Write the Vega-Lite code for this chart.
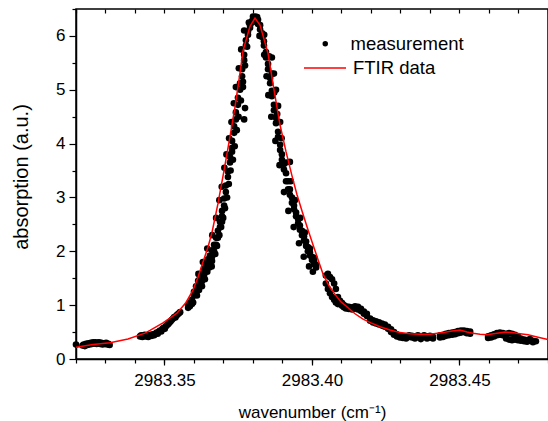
{
  "$schema": "https://vega.github.io/schema/vega-lite/v6.json",
  "width": 472,
  "height": 350,
  "autosize": {"type": "none"},
  "padding": {"left": 76, "top": 9, "right": 0, "bottom": 62},
  "background": "white",
  "config": {
    "font": "Liberation Sans",
    "view": {"stroke": "#000", "strokeWidth": 1.5},
    "axis": {
      "grid": false, "domainColor": "#000", "tickColor": "#000", "labelColor": "#000", "titleColor": "#000",
      "labelFont": "Liberation Sans", "titleFont": "Liberation Sans", "labelFontSize": 17,
      "titleFontWeight": "normal", "domainWidth": 1.5, "tickWidth": 1.2
    },
    "legend": {"labelFont": "Liberation Sans", "labelColor": "#000", "labelFontSize": 18.5, "padding": 0, "title": null}
  },
  "datasets": {
    "meas": [
      {"x":2983.3200,"y":0.27},{"x":2983.3222,"y":0.25},{"x":2983.3226,"y":0.27},{"x":2983.3230,"y":0.24},{"x":2983.3234,"y":0.28},
      {"x":2983.3238,"y":0.26},{"x":2983.3242,"y":0.29},{"x":2983.3246,"y":0.27},{"x":2983.3250,"y":0.30},{"x":2983.3254,"y":0.28},
      {"x":2983.3258,"y":0.31},{"x":2983.3262,"y":0.29},{"x":2983.3266,"y":0.31},{"x":2983.3270,"y":0.28},{"x":2983.3274,"y":0.30},
      {"x":2983.3278,"y":0.31},{"x":2983.3282,"y":0.28},{"x":2983.3286,"y":0.30},{"x":2983.3290,"y":0.27},{"x":2983.3294,"y":0.29},
      {"x":2983.3298,"y":0.28},{"x":2983.3302,"y":0.30},{"x":2983.3306,"y":0.27},{"x":2983.3310,"y":0.28},{"x":2983.3314,"y":0.26},
      {"x":2983.3417,"y":0.42},{"x":2983.3421,"y":0.44},{"x":2983.3425,"y":0.41},{"x":2983.3429,"y":0.43},{"x":2983.3433,"y":0.45},
      {"x":2983.3437,"y":0.42},{"x":2983.3441,"y":0.44},{"x":2983.3445,"y":0.41},{"x":2983.3449,"y":0.43},{"x":2983.3453,"y":0.45},
      {"x":2983.3457,"y":0.43},{"x":2983.3461,"y":0.46},{"x":2983.3465,"y":0.44},{"x":2983.3469,"y":0.47},{"x":2983.3473,"y":0.49},
      {"x":2983.3477,"y":0.47},{"x":2983.3481,"y":0.51},{"x":2983.3485,"y":0.53},{"x":2983.3489,"y":0.51},{"x":2983.3493,"y":0.56},
      {"x":2983.3497,"y":0.58},{"x":2983.3501,"y":0.56},{"x":2983.3505,"y":0.61},{"x":2983.3509,"y":0.63},{"x":2983.3513,"y":0.65},
      {"x":2983.3517,"y":0.68},{"x":2983.3521,"y":0.70},{"x":2983.3525,"y":0.73},{"x":2983.3529,"y":0.75},{"x":2983.3533,"y":0.78},
      {"x":2983.3537,"y":0.77},{"x":2983.3541,"y":0.81},{"x":2983.3545,"y":0.83},{"x":2983.3549,"y":0.85},{"x":2983.3553,"y":0.87},
      {"x":2983.3580,"y":1.00},{"x":2983.3580,"y":0.95},{"x":2983.3586,"y":1.05},{"x":2983.3586,"y":0.98},{"x":2983.3593,"y":1.10},
      {"x":2983.3593,"y":1.02},{"x":2983.3600,"y":1.18},{"x":2983.3600,"y":1.25},{"x":2983.3607,"y":1.22},{"x":2983.3607,"y":1.35},
      {"x":2983.3614,"y":1.30},{"x":2983.3614,"y":1.45},{"x":2983.3620,"y":1.38},{"x":2983.3620,"y":1.50},{"x":2983.3627,"y":1.45},
      {"x":2983.3627,"y":1.58},{"x":2983.3627,"y":1.35},{"x":2983.3634,"y":1.55},{"x":2983.3634,"y":1.68},{"x":2983.3641,"y":1.65},
      {"x":2983.3641,"y":1.75},{"x":2983.3647,"y":1.72},{"x":2983.3647,"y":1.85},{"x":2983.3654,"y":1.80},{"x":2983.3654,"y":1.92},
      {"x":2983.3661,"y":1.90},{"x":2983.3661,"y":2.02},{"x":2983.3661,"y":1.82},{"x":2983.3668,"y":2.00},{"x":2983.3668,"y":2.12},
      {"x":2983.3675,"y":2.12},{"x":2983.3675,"y":2.25},{"x":2983.3681,"y":2.25},{"x":2983.3681,"y":2.38},{"x":2983.3688,"y":2.45},
      {"x":2983.3688,"y":2.55},{"x":2983.3695,"y":2.65},{"x":2983.3695,"y":2.75},{"x":2983.3695,"y":2.55},{"x":2983.3702,"y":2.85},
      {"x":2983.3702,"y":2.98},{"x":2983.3708,"y":3.10},{"x":2983.3708,"y":3.22},{"x":2983.3715,"y":3.38},{"x":2983.3715,"y":3.48},
      {"x":2983.3722,"y":3.65},{"x":2983.3722,"y":3.75},{"x":2983.3729,"y":3.92},{"x":2983.3729,"y":4.05},{"x":2983.3729,"y":3.85},
      {"x":2983.3736,"y":4.20},{"x":2983.3736,"y":4.32},{"x":2983.3742,"y":4.45},{"x":2983.3742,"y":4.58},{"x":2983.3749,"y":4.72},
      {"x":2983.3749,"y":4.85},{"x":2983.3756,"y":5.00},{"x":2983.3756,"y":5.12},{"x":2983.3763,"y":5.25},{"x":2983.3763,"y":5.38},
      {"x":2983.3770,"y":5.55},{"x":2983.3770,"y":5.65},{"x":2983.3776,"y":5.82},{"x":2983.3776,"y":5.92},{"x":2983.3783,"y":6.02},
      {"x":2983.3783,"y":6.08},{"x":2983.3790,"y":6.15},{"x":2983.3790,"y":6.20},{"x":2983.3797,"y":6.25},{"x":2983.3797,"y":6.28},
      {"x":2983.3803,"y":6.30},{"x":2983.3803,"y":6.33},{"x":2983.3773,"y":4.66},{"x":2983.3766,"y":5.05},{"x":2983.3770,"y":4.45},
      {"x":2983.3597,"y":1.05},{"x":2983.3610,"y":1.18},{"x":2983.3617,"y":1.28},{"x":2983.3624,"y":1.40},{"x":2983.3637,"y":1.48},
      {"x":2983.3645,"y":1.62},{"x":2983.3652,"y":1.70},{"x":2983.3660,"y":1.72},{"x":2983.3615,"y":1.58},{"x":2983.3630,"y":1.80},
      {"x":2983.3645,"y":2.05},{"x":2983.3672,"y":1.95},{"x":2983.3678,"y":2.10},{"x":2983.3686,"y":2.30},{"x":2983.3692,"y":2.45},
      {"x":2983.3662,"y":2.30},{"x":2983.3675,"y":2.62},{"x":2983.3699,"y":2.62},{"x":2983.3705,"y":2.80},{"x":2983.3712,"y":3.00},
      {"x":2983.3686,"y":2.95},{"x":2983.3694,"y":3.20},{"x":2983.3718,"y":3.25},{"x":2983.3724,"y":3.50},{"x":2983.3703,"y":3.55},
      {"x":2983.3710,"y":3.80},{"x":2983.3732,"y":3.70},{"x":2983.3738,"y":3.95},{"x":2983.3719,"y":4.10},{"x":2983.3727,"y":4.40},
      {"x":2983.3745,"y":4.25},{"x":2983.3751,"y":4.50},{"x":2983.3735,"y":4.75},{"x":2983.3742,"y":5.05},{"x":2983.3759,"y":4.80},
      {"x":2983.3766,"y":5.15},{"x":2983.3752,"y":5.40},{"x":2983.3760,"y":5.75},{"x":2983.3773,"y":5.45},{"x":2983.3780,"y":5.80},
      {"x":2983.3770,"y":6.10},{"x":2983.3786,"y":6.25},{"x":2983.3800,"y":6.36},{"x":2983.3808,"y":6.36},{"x":2983.3814,"y":6.35},
      {"x":2983.3810,"y":6.32},{"x":2983.3810,"y":6.28},{"x":2983.3817,"y":6.30},{"x":2983.3817,"y":6.22},{"x":2983.3824,"y":6.20},
      {"x":2983.3824,"y":6.12},{"x":2983.3831,"y":6.05},{"x":2983.3831,"y":5.98},{"x":2983.3837,"y":5.90},{"x":2983.3837,"y":5.82},
      {"x":2983.3844,"y":5.70},{"x":2983.3844,"y":5.60},{"x":2983.3851,"y":5.48},{"x":2983.3851,"y":5.38},{"x":2983.3858,"y":5.22},
      {"x":2983.3858,"y":5.12},{"x":2983.3864,"y":4.98},{"x":2983.3864,"y":4.88},{"x":2983.3864,"y":5.60},{"x":2983.3871,"y":4.72},
      {"x":2983.3871,"y":4.62},{"x":2983.3871,"y":5.30},{"x":2983.3878,"y":4.48},{"x":2983.3878,"y":4.38},{"x":2983.3878,"y":5.00},
      {"x":2983.3885,"y":4.22},{"x":2983.3885,"y":4.12},{"x":2983.3885,"y":4.70},{"x":2983.3892,"y":3.98},{"x":2983.3892,"y":3.88},
      {"x":2983.3892,"y":4.40},{"x":2983.3898,"y":3.80},{"x":2983.3898,"y":3.70},{"x":2983.3905,"y":3.62},{"x":2983.3905,"y":3.52},
      {"x":2983.3912,"y":3.45},{"x":2983.3912,"y":3.30},{"x":2983.3919,"y":3.30},{"x":2983.3919,"y":3.15},{"x":2983.3925,"y":3.15},
      {"x":2983.3925,"y":3.05},{"x":2983.3925,"y":3.66},{"x":2983.3932,"y":3.00},{"x":2983.3932,"y":2.90},{"x":2983.3939,"y":2.85},
      {"x":2983.3939,"y":2.78},{"x":2983.3946,"y":2.72},{"x":2983.3946,"y":2.65},{"x":2983.3953,"y":2.60},{"x":2983.3953,"y":2.52},
      {"x":2983.3959,"y":2.48},{"x":2983.3959,"y":2.40},{"x":2983.3966,"y":2.38},{"x":2983.3966,"y":2.30},{"x":2983.3973,"y":2.28},
      {"x":2983.3973,"y":2.20},{"x":2983.3980,"y":2.18},{"x":2983.3980,"y":2.10},{"x":2983.3986,"y":2.08},{"x":2983.3986,"y":2.00},
      {"x":2983.3993,"y":1.98},{"x":2983.3993,"y":1.92},{"x":2983.4000,"y":1.90},{"x":2983.4000,"y":1.84},{"x":2983.4007,"y":1.82},
      {"x":2983.4007,"y":1.76},{"x":2983.4014,"y":1.75},{"x":2983.4014,"y":1.70},
      {"x":2983.3822,"y":6.00},{"x":2983.3838,"y":6.02},{"x":2983.3838,"y":5.65},{"x":2983.3855,"y":5.62},{"x":2983.3846,"y":5.25},
      {"x":2983.3864,"y":5.30},{"x":2983.3852,"y":4.90},{"x":2983.3872,"y":4.95},{"x":2983.3862,"y":4.50},{"x":2983.3882,"y":4.55},
      {"x":2983.3876,"y":4.05},{"x":2983.3897,"y":4.10},{"x":2983.3890,"y":3.60},{"x":2983.3912,"y":3.65},{"x":2983.3905,"y":3.10},
      {"x":2983.3928,"y":3.30},{"x":2983.3920,"y":2.75},{"x":2983.3942,"y":2.95},{"x":2983.3938,"y":2.45},{"x":2983.3960,"y":2.62},
      {"x":2983.3956,"y":2.15},{"x":2983.3976,"y":2.35},{"x":2983.3972,"y":1.90},{"x":2983.3993,"y":2.05},{"x":2983.3990,"y":1.72},
      {"x":2983.4008,"y":1.88},{"x":2983.4003,"y":1.62},
      {"x":2983.4047,"y":1.55},{"x":2983.4047,"y":1.40},{"x":2983.4054,"y":1.58},{"x":2983.4054,"y":1.30},{"x":2983.4061,"y":1.52},
      {"x":2983.4061,"y":1.22},{"x":2983.4068,"y":1.48},{"x":2983.4068,"y":1.15},{"x":2983.4075,"y":1.40},{"x":2983.4075,"y":1.10},
      {"x":2983.4081,"y":1.30},{"x":2983.4081,"y":1.05},{"x":2983.4088,"y":1.15},{"x":2983.4088,"y":1.02},{"x":2983.4095,"y":1.08},
      {"x":2983.4095,"y":1.02},{"x":2983.4102,"y":1.04},{"x":2983.4102,"y":0.99},{"x":2983.4108,"y":1.00},{"x":2983.4108,"y":0.96},
      {"x":2983.4115,"y":0.98},{"x":2983.4115,"y":0.94},{"x":2983.4125,"y":0.93},{"x":2983.4125,"y":0.97},{"x":2983.4136,"y":0.96},
      {"x":2983.4136,"y":0.92},{"x":2983.4146,"y":0.98},{"x":2983.4146,"y":0.94},{"x":2983.4156,"y":0.97},{"x":2983.4156,"y":0.92},
      {"x":2983.4166,"y":0.93},{"x":2983.4166,"y":0.89},{"x":2983.4176,"y":0.88},{"x":2983.4176,"y":0.84},{"x":2983.4186,"y":0.84},
      {"x":2983.4186,"y":0.80},{"x":2983.4197,"y":0.75},{"x":2983.4197,"y":0.71},{"x":2983.4207,"y":0.72},{"x":2983.4207,"y":0.68},
      {"x":2983.4217,"y":0.70},{"x":2983.4217,"y":0.66},{"x":2983.4227,"y":0.68},{"x":2983.4227,"y":0.64},{"x":2983.4237,"y":0.66},
      {"x":2983.4237,"y":0.62},{"x":2983.4247,"y":0.64},{"x":2983.4247,"y":0.60},{"x":2983.4258,"y":0.60},{"x":2983.4258,"y":0.56},
      {"x":2983.4268,"y":0.55},{"x":2983.4268,"y":0.50},{"x":2983.4278,"y":0.50},{"x":2983.4278,"y":0.45},{"x":2983.4288,"y":0.46},
      {"x":2983.4288,"y":0.42},{"x":2983.4298,"y":0.44},{"x":2983.4298,"y":0.40},{"x":2983.4308,"y":0.42},{"x":2983.4308,"y":0.39},
      {"x":2983.4319,"y":0.42},{"x":2983.4319,"y":0.38},{"x":2983.4329,"y":0.41},{"x":2983.4329,"y":0.44},{"x":2983.4339,"y":0.40},
      {"x":2983.4339,"y":0.43},{"x":2983.4349,"y":0.42},{"x":2983.4349,"y":0.38},{"x":2983.4359,"y":0.41},{"x":2983.4359,"y":0.44},
      {"x":2983.4369,"y":0.40},{"x":2983.4369,"y":0.37},{"x":2983.4380,"y":0.41},{"x":2983.4380,"y":0.44},{"x":2983.4390,"y":0.42},
      {"x":2983.4390,"y":0.38},{"x":2983.4400,"y":0.40},{"x":2983.4400,"y":0.43},{"x":2983.4410,"y":0.41},{"x":2983.4410,"y":0.38},
      {"x":2983.4434,"y":0.44},{"x":2983.4434,"y":0.40},{"x":2983.4444,"y":0.45},{"x":2983.4444,"y":0.41},{"x":2983.4454,"y":0.47},
      {"x":2983.4454,"y":0.43},{"x":2983.4464,"y":0.48},{"x":2983.4464,"y":0.44},{"x":2983.4475,"y":0.49},{"x":2983.4475,"y":0.45},
      {"x":2983.4485,"y":0.50},{"x":2983.4485,"y":0.46},{"x":2983.4495,"y":0.52},{"x":2983.4495,"y":0.48},{"x":2983.4505,"y":0.53},
      {"x":2983.4505,"y":0.49},{"x":2983.4515,"y":0.53},{"x":2983.4515,"y":0.50},{"x":2983.4525,"y":0.52},{"x":2983.4525,"y":0.48},
      {"x":2983.4536,"y":0.51},{"x":2983.4536,"y":0.47},
      {"x":2983.4597,"y":0.42},{"x":2983.4597,"y":0.39},{"x":2983.4607,"y":0.44},{"x":2983.4607,"y":0.40},{"x":2983.4617,"y":0.46},
      {"x":2983.4617,"y":0.42},{"x":2983.4627,"y":0.48},{"x":2983.4627,"y":0.44},{"x":2983.4637,"y":0.49},{"x":2983.4637,"y":0.45},
      {"x":2983.4647,"y":0.48},{"x":2983.4647,"y":0.44},{"x":2983.4658,"y":0.47},{"x":2983.4658,"y":0.38},{"x":2983.4668,"y":0.48},
      {"x":2983.4668,"y":0.36},{"x":2983.4678,"y":0.47},{"x":2983.4678,"y":0.35},{"x":2983.4688,"y":0.45},{"x":2983.4688,"y":0.36},
      {"x":2983.4698,"y":0.42},{"x":2983.4698,"y":0.35},{"x":2983.4708,"y":0.38},{"x":2983.4708,"y":0.34},{"x":2983.4719,"y":0.36},
      {"x":2983.4719,"y":0.33},{"x":2983.4729,"y":0.35},{"x":2983.4729,"y":0.32},{"x":2983.4739,"y":0.34},{"x":2983.4739,"y":0.37},
      {"x":2983.4749,"y":0.34},{"x":2983.4749,"y":0.31},{"x":2983.4759,"y":0.33}
    ],
    "ftir": [
      {"x":2983.32000,"y":0.22},{"x":2983.32576,"y":0.27},{"x":2983.33153,"y":0.30},{"x":2983.33763,"y":0.37},{"x":2983.34339,"y":0.48},
      {"x":2983.34508,"y":0.53},{"x":2983.34949,"y":0.67},{"x":2983.35424,"y":0.85},{"x":2983.35729,"y":1.05},{"x":2983.35966,"y":1.28},
      {"x":2983.36136,"y":1.52},{"x":2983.36305,"y":1.80},{"x":2983.36475,"y":2.08},{"x":2983.36610,"y":2.35},{"x":2983.36814,"y":2.89},
      {"x":2983.37017,"y":3.50},{"x":2983.37220,"y":4.13},{"x":2983.37390,"y":4.68},{"x":2983.37559,"y":5.31},{"x":2983.37661,"y":5.72},
      {"x":2983.37898,"y":6.18},{"x":2983.38068,"y":6.33},{"x":2983.38237,"y":6.20},{"x":2983.38508,"y":5.68},{"x":2983.38712,"y":5.00},
      {"x":2983.38915,"y":4.35},{"x":2983.39119,"y":3.85},{"x":2983.39322,"y":3.40},{"x":2983.39492,"y":3.05},{"x":2983.39661,"y":2.75},
      {"x":2983.39864,"y":2.40},{"x":2983.40034,"y":2.12},{"x":2983.40203,"y":1.85},{"x":2983.40373,"y":1.58},{"x":2983.40576,"y":1.36},
      {"x":2983.40780,"y":1.20},{"x":2983.40983,"y":1.06},{"x":2983.41186,"y":0.97},{"x":2983.41458,"y":0.84},{"x":2983.41729,"y":0.74},
      {"x":2983.42000,"y":0.67},{"x":2983.42305,"y":0.60},{"x":2983.42644,"y":0.54},{"x":2983.42983,"y":0.49},{"x":2983.43322,"y":0.47},
      {"x":2983.43661,"y":0.46},{"x":2983.44000,"y":0.46},{"x":2983.44441,"y":0.49},{"x":2983.44746,"y":0.52},{"x":2983.45017,"y":0.54},
      {"x":2983.45254,"y":0.50},{"x":2983.45458,"y":0.48},{"x":2983.45695,"y":0.46},{"x":2983.45932,"y":0.45},{"x":2983.46271,"y":0.48},
      {"x":2983.46542,"y":0.50},{"x":2983.46780,"y":0.49},{"x":2983.47051,"y":0.47},{"x":2983.47322,"y":0.45},{"x":2983.47627,"y":0.41},
      {"x":2983.48000,"y":0.36}
    ]
  },
  "layer": [
    {
      "data": {"name": "meas"},
      "mark": {"type": "point", "filled": true, "size": 44, "opacity": 1},
      "encoding": {
        "x": {"field": "x", "type": "quantitative", "scale": {"domain": [2983.32, 2983.48], "nice": false, "zero": false},
          "axis": {"orient": "bottom", "values": [2983.35, 2983.40, 2983.45], "format": ".2f", "tickSize": 6, "labelPadding": 7,
            "title": "wavenumber (cm⁻¹)", "titleFontSize": 17, "titleY": 58, "titleBaseline": "alphabetic"}},
        "y": {"field": "y", "type": "quantitative", "scale": {"domain": [0, 6.5], "nice": false, "zero": false},
          "axis": {"orient": "left", "values": [0, 1, 2, 3, 4, 5, 6], "tickSize": 7, "labelPadding": 4,
            "title": "absorption (a.u.)", "titleFontSize": 20, "titleX": -55, "titleY": 167.5, "titleBaseline": "middle"}},
        "color": {"datum": "measurement", "scale": {"range": ["#000000"]},
          "legend": {"orient": "none", "legendX": 240, "legendY": 25.5, "symbolType": "circle", "symbolSize": 30, "labelOffset": 16}}
      }
    },
    {
      "data": {"name": "ftir"},
      "mark": {"type": "line", "strokeWidth": 1.5},
      "encoding": {
        "x": {"field": "x", "type": "quantitative", "scale": {"domain": [2983.32, 2983.48], "nice": false, "zero": false},
          "axis": {"orient": "bottom", "values": [2983.32, 2983.33, 2983.34, 2983.35, 2983.36, 2983.37, 2983.38, 2983.39, 2983.40, 2983.41, 2983.42, 2983.43, 2983.44, 2983.45, 2983.46, 2983.47, 2983.48],
            "tickSize": 4, "labels": false, "domain": false, "title": null}},
        "y": {"field": "y", "type": "quantitative", "scale": {"domain": [0, 6.5], "nice": false, "zero": false},
          "axis": {"orient": "left", "values": [0.5, 1.5, 2.5, 3.5, 4.5, 5.5, 6.5], "tickSize": 4, "labels": false, "domain": false, "title": null}},
        "stroke": {"datum": "FTIR data", "scale": {"range": ["#ff0000"]},
          "legend": {"orient": "none", "legendX": 227, "legendY": 37, "symbolType": "stroke", "symbolSize": 1764, "symbolStrokeWidth": 1.5, "labelOffset": 6}}
      }
    },
    {
      "data": {"name": "ftir"},
      "mark": {"type": "line", "opacity": 0},
      "encoding": {
        "x": {"field": "x", "type": "quantitative", "scale": {"domain": [2983.32, 2983.48], "nice": false, "zero": false},
          "axis": {"orient": "top", "values": [2983.32, 2983.33, 2983.34, 2983.35, 2983.36, 2983.37, 2983.38, 2983.39, 2983.40, 2983.41, 2983.42, 2983.43, 2983.44, 2983.45, 2983.46, 2983.47, 2983.48],
            "tickSize": -4, "labels": false, "domain": false, "title": null}},
        "y": {"field": "y", "type": "quantitative", "scale": {"domain": [0, 6.5], "nice": false, "zero": false}, "axis": null}
      }
    }
  ],
  "resolve": {"axis": {"x": "independent", "y": "independent"}}
}
